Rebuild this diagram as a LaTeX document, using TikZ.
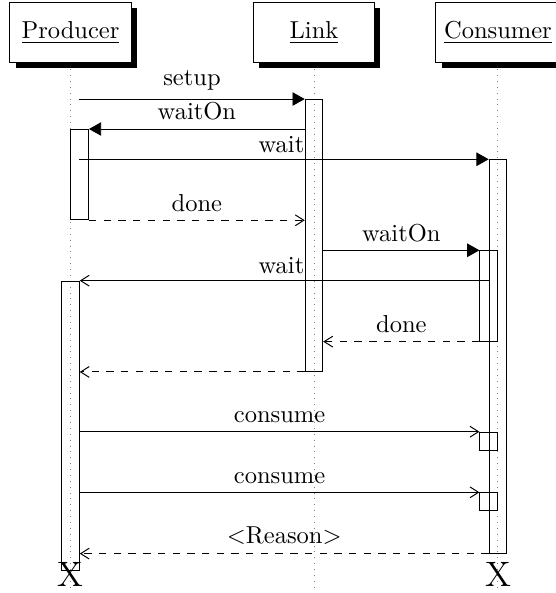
\documentclass[tikz,border=0pt]{standalone}
\usepackage{tikz}
\usetikzlibrary{arrows.meta,positioning,shadows,backgrounds}

\begin{document}
\begin{tikzpicture}[
    objbox/.style={draw,fill=white,minimum width=1.736cm,minimum height=0.861cm,
      drop shadow={shadow xshift=2.3pt,shadow yshift=-2.3pt,opacity=1,fill=black}},
    lifeline/.style={dotted,gray},
    actbar/.style={draw,minimum width=0.251cm,inner sep=0pt},
    call/.style={-{Triangle[length=5pt,width=5.5pt]}},
    msg/.style={-{Straight Barb[length=3.5pt,width=4.4pt]}},
    reply/.style={msg,dashed},
    waitlabel/.style={above left,inner xsep=0pt,inner ysep=2.5pt}
  ]
  \useasboundingbox (0,0) rectangle (7.973,-8.504);
  \coordinate (bottom) at (0,-8.504);
  % Objects
  \node[objbox] (producer) at (1.011,-0.469) {\underline{Producer}};
  \node[objbox] (link) at (4.503,-0.469) {\underline{Link}};
  \node[objbox] (consumer) at (7.141,-0.469) {\underline{Consumer}};
  \coordinate (pthread) at (1.136,0);
  % Lifelines
  \begin{scope}[on background layer]
    \foreach \obj in {producer,link,consumer}
      \draw[lifeline] (\obj.south) -- (\obj.south |- bottom);
  \end{scope}
  % Activation bars
  \node[actbar,minimum height=3.900cm,anchor=north] (linkbar) at (link |- 0,-1.420) {};
  \node[actbar,minimum height=1.295cm,anchor=north west] (pbarA) at (producer |- 0,-1.850) {};
  \node[actbar,minimum height=5.641cm,anchor=north] (cbar) at (consumer |- 0,-2.284) {};
  \node[actbar,minimum height=1.296cm,anchor=north east] (cbarB) at (consumer |- 0,-3.589) {};
  \node[actbar,minimum height=4.149cm,anchor=north] (pbarB) at (producer |- 0,-4.025) {};
  \node[actbar,minimum height=0.262cm,anchor=north east] (cblkA) at (consumer |- 0,-6.191) {};
  \node[actbar,minimum height=0.254cm,anchor=north east] (cblkB) at (consumer |- 0,-7.060) {};
  % Messages
  \draw[call] (pthread |- linkbar.north) -- node[above] (setuplbl) {setup} (linkbar.north west);
  \draw[call] (linkbar.west |- pbarA.north) -- node[above] (waitonlbl) {waitOn} (pbarA.north east);
  \draw[call] (pthread |- cbar.north) -- (cbar.north west);
  \node[waitlabel] (waitlbl) at (linkbar.west |- cbar.north) {wait};
  \draw[reply] (pbarA.south east) -- node[above] (donelbl) {done} (linkbar.west |- pbarA.south);
  \draw[call] (linkbar.east |- cbarB.north) -- node[above] (waitonlblB) {waitOn} (cbarB.north west);
  \draw[msg] (cbar.west |- pbarB.north) -- (pbarB.north east);
  \node[waitlabel] (waitlblB) at (linkbar.west |- pbarB.north) {wait};
  \draw[reply] (cbarB.south west) -- node[above] (donelblB) {done} (linkbar.east |- cbarB.south);
  \draw[reply] (linkbar.south west) -- (pbarB.east |- linkbar.south);
  \draw[msg] (pbarB.east |- cblkA.north) -- node[above] (consumelbl) {consume} (cblkA.north west);
  \draw[msg] (pbarB.east |- cblkB.north) -- node[above] (consumelblB) {consume} (cblkB.north west);
  \draw[reply] (cbar.south west) -- node[above] (reasonlbl) {$<$Reason$>$} (pbarB.east |- cbar.south);
  % Destruction marks
  \node[font=\Large,inner sep=0pt] (pkill) at (producer |- 0,-8.24) {X};
  \node[font=\Large,inner sep=0pt] (ckill) at (consumer |- 0,-8.24) {X};
\end{tikzpicture}
\end{document}
